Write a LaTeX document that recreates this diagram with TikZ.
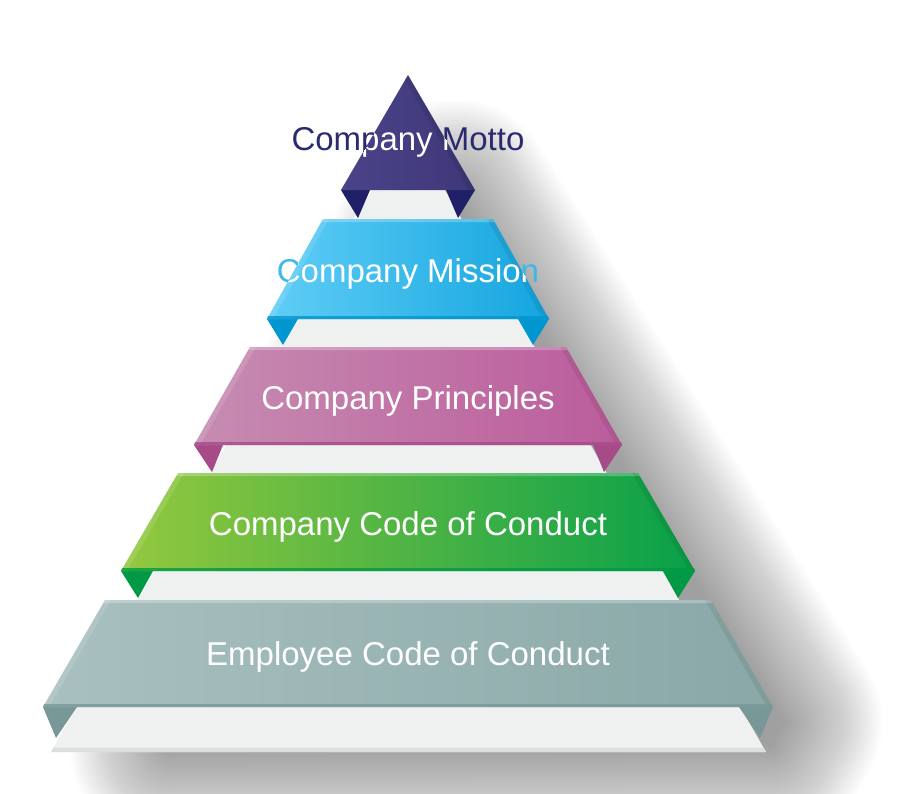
\documentclass[tikz,border=0pt]{standalone}
\usepackage{fontspec}
\setmainfont{Liberation Sans}
\usetikzlibrary{calc}
\definecolor{bodyc}{HTML}{EFF1F1}
\definecolor{bodyedge}{HTML}{DCDFE0}
\definecolor{mottoL}{HTML}{4B4388}
\definecolor{mottoR}{HTML}{3E3779}
\definecolor{mottoF}{HTML}{1F2067}
\definecolor{mottoT}{HTML}{2B2A6F}
\definecolor{missL}{HTML}{60CEF6}
\definecolor{missR}{HTML}{14A5DF}
\definecolor{missF}{HTML}{0096CF}
\definecolor{missT}{HTML}{3DB8EA}
\definecolor{prinL}{HTML}{C68CB1}
\definecolor{prinR}{HTML}{BB5C9C}
\definecolor{prinF}{HTML}{A64B88}
\definecolor{grnL}{HTML}{94C83E}
\definecolor{grnR}{HTML}{08A04A}
\definecolor{grnF}{HTML}{009945}
\definecolor{empL}{HTML}{A9C0C0}
\definecolor{empR}{HTML}{89A8A7}
\definecolor{empF}{HTML}{789898}
\tikzset{
  lbl/.style={anchor=base, inner sep=0pt, font=\fontsize{33}{40}\selectfont, text=white},
  foldface/.style={fill=#1},
}
% #1 ytop, #2 x top-left, #3 ybot, #4 x bottom-left, #5 inner x, #6 tip x, #7 tip y, #8 colour prefix
\newcommand\pyrband[8]{%
  \fill[foldface=#8F] (#4,#3) -- (#5,#3) -- (#6,#7) -- cycle;
  \fill[foldface=#8F] ({816-#4},#3) -- ({816-#5},#3) -- ({816-#6},#7) -- cycle;
  \shade[left color=#8L, right color=#8R] (#2,#1) -- ({816-#2},#1) -- ({816-#4},#3) -- (#4,#3) -- cycle;
  \fill[white, opacity=.25] (#2,#1) -- ({816-#2},#1) -- ({816-#2+1.7},{#1+3}) -- ({#2-1.7},{#1+3}) -- cycle;
  \fill[white, opacity=.12] (#2,#1) -- ({#2+6},#1) -- ({#4+6},#3) -- (#4,#3) -- cycle;
  \fill[black, opacity=.07] ({816-#2},#1) -- ({816-#2-6},#1) -- ({816-#4-6},#3) -- ({816-#4},#3) -- cycle;
  \fill[#8F, opacity=.8] ({#4+1},{#3-3}) -- ({816-#4-1},{#3-3}) -- ({816-#4},#3) -- (#4,#3) -- cycle;
}
\begin{document}
\begin{tikzpicture}[x=1pt,y=-1pt]
\useasboundingbox (0,0) rectangle (904,793);
% soft shadow
\foreach \k in {1,...,40} {
  \pgfmathsetmacro\lw{\k*5}
  \begin{scope}[transparency group, opacity=0.01]
    \filldraw[black, line width=\lw pt, line join=round]
      (455,200) -- (782,722) -- (770,744) -- (170,746) -- cycle;
  \end{scope}
}
% pyramid body
\fill[bodyc] (371,190) -- (445,190) -- (766,752) -- (50,752) -- cycle;
\fill[bodyedge] (52.5,747.5) -- (763.5,747.5) -- (766,752) -- (50,752) -- cycle;
\draw[white, line width=1.5pt] (371,190) -- (50,752);
% top: motto
\fill[mottoF] (341,190) -- (370,190) -- (358,218) -- cycle;
\fill[mottoF] (475,190) -- (446,190) -- (458,218) -- cycle;
\shade[left color=mottoL, right color=mottoR] (408,75) -- (475,190) -- (341,190) -- cycle;
\fill[black, opacity=.08] (408,75) -- (475,190) -- (469,190) -- (405,80) -- cycle;
\node[lbl, text=mottoT] (motto) at (408,150) {Company Motto};
\begin{scope}
  \clip (408,75) -- (475,190) -- (341,190) -- cycle;
  \node[lbl] (motto-w) at (408,150) {Company Motto};
\end{scope}
% mission
\pyrband{219}{323}{319}{267}{298}{283}{345}{miss}
\node[lbl, text=missT] (mission) at (408,282) {Company Mission};
\begin{scope}
  \clip (323,219) -- (493,219) -- (549,319) -- (267,319) -- cycle;
  \node[lbl] (mission-w) at (408,282) {Company Mission};
\end{scope}
% principles
\pyrband{347}{250}{445}{194}{223}{212}{472}{prin}
\node[lbl] (principles) at (408,409) {Company Principles};
% company code of conduct
\pyrband{473}{178}{571}{121}{153}{138}{598}{grn}
\node[lbl] (conduct) at (408,535) {Company Code of Conduct};
% employee code of conduct
\pyrband{600}{105}{707}{43}{77}{56}{738}{emp}
\node[lbl] (employee) at (408,665) {Employee Code of Conduct};
\end{tikzpicture}
\end{document}
